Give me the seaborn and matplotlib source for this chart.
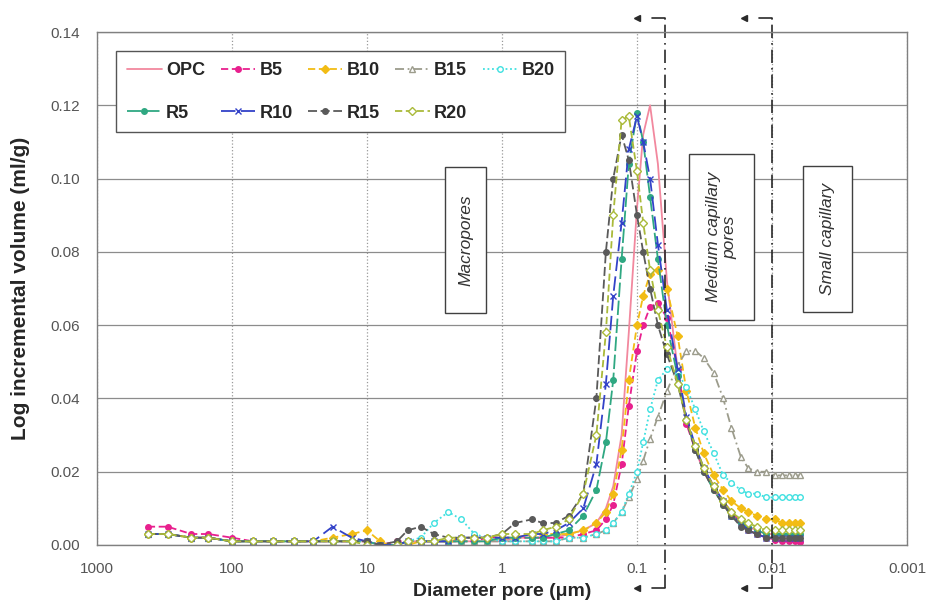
import matplotlib
matplotlib.use("Agg")
import matplotlib.pyplot as plt
import matplotlib.transforms as mtransforms
from matplotlib.patches import Rectangle
from matplotlib.ticker import MultipleLocator, FixedLocator, FixedFormatter, LogLocator, NullFormatter
import seaborn as sns

# pore diameter steps (um)
diameter = [420, 300, 200, 150, 100, 70, 50, 35, 25, 18,
            13, 10, 8, 6, 5, 4, 3.2, 2.5, 2.0, 1.6,
            1.3, 1.0, 0.8, 0.6, 0.5, 0.4, 0.32, 0.25, 0.2, 0.17,
            0.15, 0.13, 0.115, 0.1, 0.09, 0.08, 0.07, 0.06, 0.05, 0.043,
            0.037, 0.032, 0.027, 0.023, 0.02, 0.017, 0.015, 0.013, 0.011, 0.0095,
            0.0085, 0.0075, 0.0068, 0.0062]

# log incremental volume (ml/g)
opc = [0.003, 0.003, 0.002, 0.002, 0.001, 0.001, 0.001, 0.001, 0.001, 0.001,
       0.001, 0.001, 0.000, 0.000, 0.001, 0.001, 0.001, 0.001, 0.001, 0.001,
       0.001, 0.001, 0.002, 0.002, 0.002, 0.002, 0.003, 0.004, 0.006, 0.010,
       0.016, 0.030, 0.058, 0.092, 0.112, 0.120, 0.104, 0.072, 0.048, 0.034,
       0.026, 0.020, 0.015, 0.011, 0.008, 0.006, 0.005, 0.004, 0.003, 0.003,
       0.003, 0.002, 0.002, 0.002]
b5 = [0.005, 0.005, 0.003, 0.003, 0.002, 0.001, 0.001, 0.001, 0.001, 0.001,
      0.001, 0.001, 0.000, 0.001, 0.001, 0.001, 0.001, 0.001, 0.001, 0.001,
      0.002, 0.002, 0.002, 0.002, 0.002, 0.002, 0.002, 0.003, 0.004, 0.007,
      0.011, 0.022, 0.038, 0.053, 0.060, 0.065, 0.066, 0.062, 0.048, 0.033,
      0.026, 0.021, 0.016, 0.012, 0.009, 0.006, 0.004, 0.003, 0.002, 0.0015,
      0.001, 0.001, 0.001, 0.0008]
b10 = [0.003, 0.003, 0.002, 0.002, 0.001, 0.001, 0.001, 0.001, 0.001, 0.002,
       0.003, 0.004, 0.001, -0.001, 0.000, 0.001, 0.001, 0.001, 0.002, 0.002,
       0.002, 0.002, 0.002, 0.003, 0.003, 0.003, 0.003, 0.004, 0.006, 0.009,
       0.014, 0.026, 0.045, 0.060, 0.068, 0.074, 0.075, 0.070, 0.057, 0.042,
       0.032, 0.025, 0.019, 0.015, 0.012, 0.010, 0.009, 0.008, 0.007, 0.007,
       0.006, 0.006, 0.006, 0.006]
b15 = [0.003, 0.003, 0.002, 0.002, 0.001, 0.001, 0.001, 0.001, 0.001, 0.001,
       0.001, 0.001, 0.000, 0.000, 0.001, 0.001, 0.001, 0.001, 0.001, 0.001,
       0.001, 0.001, 0.001, 0.001, 0.001, 0.001, 0.002, 0.002, 0.003, 0.004,
       0.006, 0.009, 0.013, 0.018, 0.023, 0.029, 0.035, 0.042, 0.049, 0.053,
       0.053, 0.051, 0.047, 0.040, 0.032, 0.024, 0.021, 0.020, 0.020, 0.019,
       0.019, 0.019, 0.019, 0.019]
b20 = [0.003, 0.003, 0.002, 0.002, 0.001, 0.001, 0.001, 0.001, 0.001, 0.001,
       0.001, 0.001, 0.000, 0.000, 0.001, 0.002, 0.006, 0.009, 0.007, 0.003,
       0.002, 0.001, 0.001, 0.001, 0.001, 0.001, 0.002, 0.002, 0.003, 0.004,
       0.006, 0.009, 0.014, 0.020, 0.028, 0.037, 0.045, 0.048, 0.047, 0.043,
       0.037, 0.031, 0.025, 0.019, 0.017, 0.015, 0.014, 0.014, 0.013, 0.013,
       0.013, 0.013, 0.013, 0.013]
r5 = [0.003, 0.003, 0.002, 0.002, 0.001, 0.001, 0.001, 0.001, 0.001, 0.001,
      0.001, 0.001, 0.000, 0.000, 0.001, 0.001, 0.001, 0.001, 0.001, 0.001,
      0.001, 0.002, 0.002, 0.002, 0.002, 0.003, 0.004, 0.008, 0.015, 0.028,
      0.045, 0.078, 0.104, 0.118, 0.110, 0.095, 0.078, 0.060, 0.046, 0.034,
      0.026, 0.020, 0.015, 0.011, 0.008, 0.006, 0.005, 0.004, 0.003, 0.003,
      0.003, 0.003, 0.003, 0.003]
r10 = [0.003, 0.003, 0.002, 0.002, 0.001, 0.001, 0.001, 0.001, 0.001, 0.005,
       0.002, 0.001, 0.000, 0.000, 0.001, 0.001, 0.001, 0.001, 0.002, 0.002,
       0.002, 0.002, 0.002, 0.003, 0.003, 0.004, 0.006, 0.010, 0.022, 0.044,
       0.068, 0.088, 0.108, 0.117, 0.110, 0.100, 0.082, 0.064, 0.048, 0.035,
       0.027, 0.021, 0.016, 0.012, 0.008, 0.006, 0.004, 0.003, 0.002, 0.002,
       0.002, 0.002, 0.002, 0.002]
r15 = [0.003, 0.003, 0.002, 0.002, 0.001, 0.001, 0.001, 0.001, 0.001, 0.001,
       0.001, 0.001, 0.000, 0.001, 0.004, 0.005, 0.003, 0.002, 0.002, 0.002,
       0.002, 0.003, 0.006, 0.007, 0.006, 0.006, 0.008, 0.014, 0.040, 0.080,
       0.100, 0.112, 0.105, 0.090, 0.080, 0.070, 0.060, 0.052, 0.044, 0.034,
       0.026, 0.020, 0.015, 0.011, 0.008, 0.005, 0.004, 0.003, 0.002, 0.002,
       0.002, 0.002, 0.002, 0.002]
r20 = [0.003, 0.003, 0.002, 0.002, 0.001, 0.001, 0.001, 0.001, 0.001, 0.001,
       0.001, 0.000, -0.001, 0.000, 0.001, 0.001, 0.001, 0.002, 0.002, 0.002,
       0.002, 0.003, 0.003, 0.003, 0.004, 0.005, 0.007, 0.014, 0.030, 0.058,
       0.090, 0.116, 0.117, 0.102, 0.088, 0.075, 0.064, 0.054, 0.044, 0.034,
       0.027, 0.021, 0.016, 0.012, 0.009, 0.007, 0.006, 0.005, 0.004, 0.004,
       0.004, 0.004, 0.004, 0.004]

names = ["OPC", "B5", "B10", "B15", "B20", "R5", "R10", "R15", "R20"]
series = [opc, b5, b10, b15, b20, r5, r10, r15, r20]

# styles
colors = ["#F2889E", "#E8208E", "#F2BC14", "#9C9C8C", "#3FE0E0",
          "#2FA882", "#3342C8", "#5A5A5A", "#AABA3A"]
markers = ["", "o", "D", "^", "o", "o", "x", "o", "D"]
open_marker = [False, False, False, True, True, False, False, False, True]
linestyles = ["-", (0, (4, 2)), (0, (4, 2)), (0, (5, 2, 1, 2)), (0, (1, 1.5)),
              (0, (8, 2)), (0, (8, 3)), (0, (5, 2)), (0, (4, 2))]

x_ticks = [1000, 100, 10, 1, 0.1, 0.01, 0.001]
x_tick_labels = ["1000", "100", "10", "1", "0.1", "0.01", "0.001"]
boundaries = [0.062, 0.01]

sns.set_style("white")
plt.rcParams["font.family"] = ["Liberation Sans", "DejaVu Sans"]

fig = plt.figure(figsize=(9.3, 6.05), dpi=100)
ax = fig.add_axes([97 / 930, 60 / 605, 810 / 930, 513 / 605])

for name, vals, c, m, om, ls in zip(names, series, colors, markers, open_marker, linestyles):
    sns.lineplot(x=diameter, y=vals, ax=ax, color=c, marker=m if m else None,
                 markersize=4, markeredgewidth=1.0,
                 markerfacecolor="white" if om else c, markeredgecolor=c,
                 linestyle=ls, linewidth=1.3, label=name, sort=False, estimator=None)

ax.set_xscale("log")
ax.set_xlim(1000, 0.001)
ax.set_ylim(0, 0.14)
ax.xaxis.set_major_locator(FixedLocator(x_ticks))
ax.xaxis.set_major_formatter(FixedFormatter(x_tick_labels))
ax.xaxis.set_minor_locator(LogLocator(base=10, subs=range(2, 10)))
ax.xaxis.set_minor_formatter(NullFormatter())
ax.yaxis.set_major_locator(MultipleLocator(0.02))
ax.yaxis.set_minor_locator(MultipleLocator(0.004))
ax.yaxis.set_major_formatter(matplotlib.ticker.FormatStrFormatter("%.2f"))

ax.grid(True, axis="y", color="#8c8c8c", linewidth=0.9)
ax.grid(True, axis="x", which="major", color="#9a9a9a", linestyle=":", linewidth=0.9)
for sp in ax.spines.values():
    sp.set_color("#808080")
    sp.set_linewidth(1.0)
ax.tick_params(axis="both", which="major", direction="inout", length=6, color="#808080",
               labelsize=11, labelcolor="#555555")
ax.tick_params(axis="x", which="major", pad=9)
ax.tick_params(axis="y", which="major", pad=9)
ax.tick_params(axis="both", which="minor", direction="in", length=3, color="#808080")

ax.set_xlabel("Diameter pore (\u03bcm)", fontsize=14, fontweight="bold")
ax.set_ylabel("Log incremental volume (ml/g)", fontsize=15, fontweight="bold")
ax.xaxis.set_label_coords(0.5, -0.074)
ax.yaxis.set_label_coords(-0.083, 0.5)

# boundary lines with arrows
blend = mtransforms.blended_transform_factory(ax.transData, ax.transAxes)
for b in boundaries:
    ax.plot([b, b], [-0.084, 1.027], transform=blend, clip_on=False,
            color="#2a2a2a", linestyle=(0, (8, 3, 1, 3)), linewidth=1.2)
    tip = b * 1.6
    for yy in (1.027, -0.084):
        ax.plot([b, b * 1.25], [yy, yy], transform=blend, clip_on=False,
                color="#2a2a2a", linestyle="-", linewidth=1.2)
        ax.plot([tip], [yy], transform=blend, clip_on=False, marker="<",
                markersize=5, color="#2a2a2a", linestyle="none")

# pore class boxes (axes fraction)
boxes = [((0.4296, 0.4522), 0.0506, 0.2846, "Macropores"),
         ((0.7309, 0.4386), 0.0802, 0.3236, "Medium capillary\npores"),
         ((0.8716, 0.4542), 0.0605, 0.2846, "Small capillary")]
for (x0, y0), w, h, label in boxes:
    ax.add_patch(Rectangle((x0, y0), w, h, transform=ax.transAxes, facecolor="white",
                           edgecolor="#404040", linewidth=1.0, zorder=5))
    ax.text(x0 + w / 2, y0 + h / 2, label, transform=ax.transAxes, rotation=90,
            ha="center", va="center", fontsize=12.5, style="italic", color="#333333",
            multialignment="center", linespacing=1.1, zorder=6)

# legend in row order
handles, labels = ax.get_legend_handles_labels()
order = [0, 5, 1, 6, 2, 7, 3, 8, 4]
leg = ax.legend([handles[i] for i in order], [labels[i] for i in order], ncol=5,
                loc="upper left", bbox_to_anchor=(0.024, 0.962), frameon=True,
                fancybox=False, framealpha=1, edgecolor="#555555",
                prop={"weight": "bold", "size": 13}, handlelength=1.9,
                handletextpad=0.25, columnspacing=0.85, labelspacing=1.4,
                borderpad=0.6, borderaxespad=0)
leg.get_frame().set_linewidth(1.0)
leg.set_zorder(10)

fig.savefig("out.png", dpi=100)
